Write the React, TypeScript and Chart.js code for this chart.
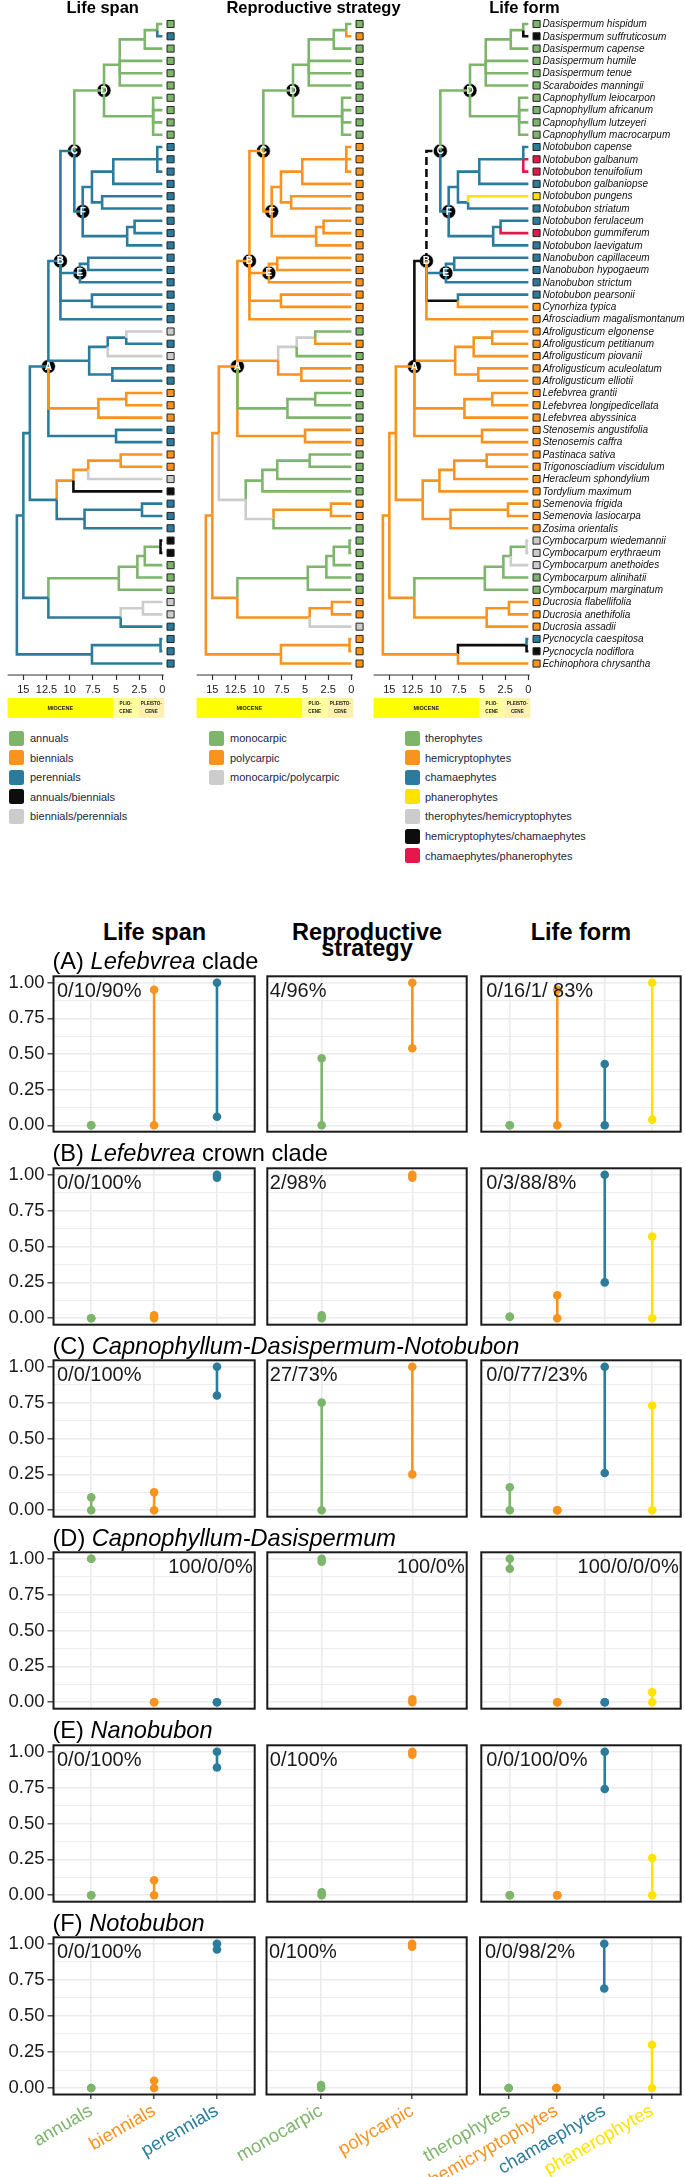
import React, { useEffect, useRef } from "react";
import { Chart, registerables } from "chart.js";

Chart.register(...registerables);
const FONT = '"Liberation Sans", Arial, Helvetica, sans-serif';
Chart.defaults.font.family = FONT;

// ---------- colours ----------
const GREEN = "#7db56b";
const ORANGE = "#f7931e";
const BLUE = "#2b7c9c";
const BLACK = "#0d0d0d";
const GREY = "#cccccc";
const YELLOW = "#ffe300";
const RED = "#e3184b";
const GRID = "#ebebeb";
const stateColors: Record<string, string> = { g: GREEN, o: ORANGE, b: BLUE, k: BLACK, s: GREY, y: YELLOW, r: RED, d: BLACK };

// ---------- phylogeny data ----------
const tipNames = [
  "Dasispermum hispidum", "Dasispermum suffruticosum", "Dasispermum capense", "Dasispermum humile", "Dasispermum tenue",
  "Scaraboides manningii", "Capnophyllum leiocarpon", "Capnophyllum africanum", "Capnophyllum lutzeyeri", "Capnophyllum macrocarpum",
  "Notobubon capense", "Notobubon galbanum", "Notobubon tenuifolium", "Notobubon galbaniopse", "Notobubon pungens",
  "Notobubon striatum", "Notobubon ferulaceum", "Notobubon gummiferum", "Notobubon laevigatum",
  "Nanobubon capillaceum", "Nanobubon hypogaeum", "Nanobubon strictum", "Notobubon pearsonii", "Cynorhiza typica",
  "Afrosciadium magalismontanum", "Afroligusticum elgonense", "Afroligusticum petitianum", "Afroligusticum piovanii",
  "Afroligusticum aculeolatum", "Afroligusticum elliotii", "Lefebvrea grantii", "Lefebvrea longipedicellata",
  "Lefebvrea abyssinica", "Stenosemis angustifolia", "Stenosemis caffra", "Pastinaca sativa", "Trigonosciadium viscidulum",
  "Heracleum sphondylium", "Tordylium maximum", "Semenovia frigida", "Semenovia lasiocarpa", "Zosima orientalis",
  "Cymbocarpum wiedemannii", "Cymbocarpum erythraeum", "Cymbocarpum anethoides", "Cymbocarpum alinihatii",
  "Cymbocarpum marginatum", "Ducrosia flabellifolia", "Ducrosia anethifolia", "Ducrosia assadii",
  "Pycnocycla caespitosa", "Pycnocycla nodiflora", "Echinophora chrysantha",
];

// internal nodes: [id, age (Ma), children]  (tips are numbered 1..53 top to bottom)
const treeNodes: [string, number, (string | number)[]][] = [
  ["R", 15.7, ["I", "K"]],
  ["I", 15.0, ["G", "J"]],
  ["G", 14.3, ["A", "H"]],
  ["A", 12.3, ["B", "a26", "a31", "a34"]],
  ["B", 11.0, ["C", "E", "b23", 25]],
  ["C", 9.5, ["D", "F"]],
  ["D", 6.3, ["d1", "d7"]],
  ["d1", 4.6, ["d3", 4, 5, 6]],
  ["d3", 1.9, ["d2", 3]],
  ["d2", 0.55, [1, 2]],
  ["d7", 1.0, [7, 8, 9, 10]],
  ["F", 8.6, ["f1", "f2"]],
  ["f1", 7.6, ["f11", "f15"]],
  ["f11", 5.3, ["f12", 14]],
  ["f12", 0.55, [11, 12, 13]],
  ["f15", 6.5, [15, 16]],
  ["f2", 3.8, ["f17", 19]],
  ["f17", 3.0, [17, 18]],
  ["E", 8.9, ["e20", 22]],
  ["e20", 8.0, [20, 21]],
  ["b23", 7.6, [23, 24]],
  ["a26", 7.9, ["a26b", "a29"]],
  ["a26b", 5.9, ["a26c", 28]],
  ["a26c", 3.9, [26, 27]],
  ["a29", 5.4, [29, 30]],
  ["a31", 6.9, ["a31b", 33]],
  ["a31b", 3.9, [31, 32]],
  ["a34", 5.0, [34, 35]],
  ["H", 11.4, ["h1", "h2"]],
  ["h1", 9.6, ["h11", 39]],
  ["h11", 8.0, ["h36", 38]],
  ["h36", 4.5, [36, 37]],
  ["h2", 8.4, ["h40", 42]],
  ["h40", 2.2, [40, 41]],
  ["J", 12.3, ["j1", "j2"]],
  ["j1", 4.7, ["j11", 47]],
  ["j11", 2.7, ["j111", 46]],
  ["j111", 1.9, ["j43", 45]],
  ["j43", 0.2, [43, 44]],
  ["j2", 4.5, ["j48", 50]],
  ["j48", 2.1, [48, 49]],
  ["K", 7.6, ["k51", 53]],
  ["k51", 0.2, [51, 52]],
];
const nodeLetters = ["A", "B", "C", "D", "E", "F"];

// states per tip (53) and per internal node (order of treeNodes)
const lifeSpanTipStates = "gbgggggggg" + "bbbbbbbbbb" + "bbbbb" + "sbsbb" + "ooo" + "bb" + "ooskb" + "bbkkg" + "ggssb" + "bbb";
const lifeSpanNodeStates = "-bbbbbggggg" + "bbbbbbb" + "bbb" + "bbbb" + "oo" + "b" + "b" + "ooo" + "bb" + "b" + "gggg" + "b" + "s" + "bb";
const reproTipStates = "gogggggggg" + "ooooooooooooooo" + "gogoo" + "ggg" + "oo" + "gggg" + "oog" + "ggggg" + "oos" + "ooo";
const reproNodeStates = "-oooo" + "o" + "ggggg" + "ooooooo" + "ooo" + "o" + "ss" + "o" + "gg" + "o" + "s" + "ggg" + "s" + "o" + "o" + "gggg" + "oo" + "oo";
const lifeFormTipStates = "gkgggggggg" + "brrbybbrbb" + "bbboo" + "ooooo" + "ooo" + "oo" + "ooooooo" + "sssgg" + "ooo" + "bko";
const lifeFormNodeStates = "-ooo" + "k" + "d" + "ggggg" + "bbbbbbb" + "bb" + "k" + "oooo" + "oo" + "o" + "o" + "ooo" + "oo" + "o" + "gggg" + "oo" + "o" + "k";

const ageTicks = [15, 12.5, 10, 7.5, 5, 2.5, 0];
const epochNames = [["MIOCENE"], ["PLIO-", "CENE"], ["PLEISTO-", "CENE"]];
const epochStart = [23.03, 5.333, 2.58];
const epochEnd = [5.333, 2.58, -0.2];
const epochColors = ["#ffff00", "#ffff9e", "#fff0b0"];

const lifeSpanLegend: [string, string][] = [["annuals", GREEN], ["biennials", ORANGE], ["perennials", BLUE], ["annuals/biennials", BLACK], ["biennials/perennials", GREY]];
const reproLegend: [string, string][] = [["monocarpic", GREEN], ["polycarpic", ORANGE], ["monocarpic/polycarpic", GREY]];
const lifeFormLegend: [string, string][] = [["therophytes", GREEN], ["hemicryptophytes", ORANGE], ["chamaephytes", BLUE], ["phanerophytes", YELLOW], ["therophytes/hemicryptophytes", GREY], ["hemicryptophytes/chamaephytes", BLACK], ["chamaephytes/phanerophytes", RED]];

// ---------- ancestral state panels data ----------
const lifeSpanCats = ["annuals", "biennials", "perennials"];
const reproCats = ["monocarpic", "polycarpic"];
const lifeFormCats = ["therophytes", "hemicryptophytes", "chamaephytes", "phanerophytes"];
const lifeSpanLow = [[0, 0, 0.06], [0, 0, 0.98], [0, 0, 0.8], [1, 0, 0], [0, 0, 0.89], [0, 0, 0.96]];
const lifeSpanHigh = [[0, 0.95, 1], [0, 0.02, 1], [0.09, 0.125, 1], [1, 0, 0], [0, 0.105, 1], [0, 0.05, 1]];
const reproLow = [[0, 0.54], [0, 0.98], [0, 0.25], [0.98, 0], [0, 0.98], [0, 0.98]];
const reproHigh = [[0.47, 1], [0.02, 1], [0.75, 1], [1, 0.02], [0.02, 1], [0.02, 1]];
const lifeFormLow = [[0, 0, 0, 0.04], [0.01, 0, 0.25, 0], [0, 0, 0.26, 0], [0.93, 0, 0, 0], [0, 0, 0.74, 0], [0, 0, 0.69, 0]];
const lifeFormHigh = [[0, 0.95, 0.43, 1], [0.01, 0.16, 1, 0.57], [0.16, 0, 1, 0.73], [1, 0, 0, 0.07], [0, 0, 1, 0.26], [0, 0, 1, 0.3]];
const lifeSpanPct = ["0/10/90%", "0/0/100%", "0/0/100%", "100/0/0%", "0/0/100%", "0/0/100%"];
const reproPct = ["4/96%", "2/98%", "27/73%", "100/0%", "0/100%", "0/100%"];
const lifeFormPct = ["0/16/1/ 83%", "0/3/88/8%", "0/0/77/23%", "100/0/0/0%", "0/0/100/0%", "0/0/98/2%"];
const pctRight = [false, false, false, true, false, false];
const cladeTitles = [
  ["(A) ", "Lefebvrea", " clade"],
  ["(B) ", "Lefebvrea", " crown clade"],
  ["(C) ", "Capnophyllum-Dasispermum-Notobubon", ""],
  ["(D) ", "Capnophyllum-Dasispermum", ""],
  ["(E) ", "Nanobubon", ""],
  ["(F) ", "Notobubon", ""],
];
const columnTitles = [["Life span"], ["Reproductive", "strategy"], ["Life form"]];
const yTickVals = [0, 0.125, 0.25, 0.375, 0.5, 0.625, 0.75, 0.875, 1];

const panelSpecs = [
  { cats: lifeSpanCats, colors: [GREEN, ORANGE, BLUE], lows: lifeSpanLow, highs: lifeSpanHigh, pcts: lifeSpanPct },
  { cats: reproCats, colors: [GREEN, ORANGE], lows: reproLow, highs: reproHigh, pcts: reproPct },
  { cats: lifeFormCats, colors: [GREEN, ORANGE, BLUE, YELLOW], lows: lifeFormLow, highs: lifeFormHigh, pcts: lifeFormPct },
];

// ---------- layout constants ----------
const PANEL_L = [53.5, 266.5, 480];
const PANEL_R = [255.5, 468, 681.5];
const PCT_DX = [3.5, 2.5, 5];
const ROW_TOP0 = 975;
const ROW_PITCH = 192.3;
const PANEL_H = 158;
const AGE_MAX = 16.7;
const AGE_MIN = -0.93; // room for the tip squares inside the plot area
const AXIS_END = -0.15; // axis line stops just past 0
const TIP_X = -0.88;
const Y_MIN = 0.187;
const Y_MAX = 53.93;

function buildTree() {
  const age: Record<string, number> = {};
  const kids: Record<string, string[]> = {};
  const parent: Record<string, string> = {};
  treeNodes.forEach(([id, a, ch]) => {
    age[id] = a;
    kids[id] = ch.map(String);
    ch.forEach((c) => (parent[String(c)] = id));
  });
  tipNames.forEach((_, i) => (age[String(i + 1)] = 0));
  const y: Record<string, number> = {};
  const place = (id: string): number => {
    if (y[id] !== undefined) return y[id];
    const k = kids[id];
    y[id] = k ? k.map(place).reduce((s, v) => s + v, 0) / k.length : Number(id);
    return y[id];
  };
  place("R");
  return { age, y, parent };
}

function TreeChart({ left, width, tipStates, nodeStates, showLabels }: any) {
  const ref = useRef<HTMLCanvasElement>(null);
  useEffect(() => {
    const t = buildTree();
    const stateOf = (id: string) =>
      /^\d+$/.test(id) ? tipStates[Number(id) - 1] : nodeStates[treeNodes.findIndex((n) => n[0] === id)];
    const edgeIds = [...tipNames.map((_, i) => String(i + 1)), ...treeNodes.slice(1).map((n) => n[0])];
    const datasets: any[] = [];
    // time axis line
    datasets.push({
      data: [
        { x: AGE_MAX, y: Y_MAX },
        { x: AXIS_END, y: Y_MAX },
      ],
      showLine: true,
      borderColor: "#333",
      borderWidth: 1.2,
      pointRadius: 0,
      pointHoverRadius: 0,
      clip: false,
    });
    edgeIds.forEach((id) => {
      const p = t.parent[id];
      const st = stateOf(id);
      datasets.push({
        data: [
          { x: t.age[p], y: t.y[p] },
          { x: t.age[p], y: t.y[id] },
          { x: t.age[id], y: t.y[id] },
        ],
        showLine: true,
        borderColor: stateColors[st],
        borderWidth: 2.6,
        borderDash: st === "d" ? [8, 4] : [],
        borderCapStyle: "butt",
        borderJoinStyle: "miter",
        pointRadius: 0,
        pointHoverRadius: 0,
        tension: 0,
        fill: false,
      });
    });
    const tipColors = tipNames.map((_, i) => stateColors[tipStates[i]]);
    datasets.push({
      data: tipNames.map((_, i) => ({ x: TIP_X, y: i + 1 })),
      showLine: false,
      pointStyle: "rect",
      pointRadius: 5,
      pointHoverRadius: 5,
      pointBackgroundColor: tipColors,
      backgroundColor: tipColors,
      pointBorderColor: "#222",
      borderColor: "#222",
      pointBorderWidth: 1,
      clip: false,
    });
    datasets.push({
      data: nodeLetters.map((id) => ({ x: t.age[id], y: t.y[id] })),
      showLine: false,
      pointRadius: 7,
      pointHoverRadius: 7,
      pointBackgroundColor: "#000",
      backgroundColor: "#000",
      pointBorderColor: "#fff",
      pointBorderWidth: 0.6,
      clip: false,
    });
    const plugin = {
      id: "treeExtras",
      afterDatasetsDraw(chart: any) {
        const { ctx } = chart;
        const xs = chart.scales.x;
        const ys = chart.scales.y;
        ctx.save();
        ctx.font = `bold 10px ${FONT}`;
        ctx.fillStyle = "#fff";
        ctx.textAlign = "center";
        ctx.textBaseline = "middle";
        nodeLetters.forEach((id) => ctx.fillText(id, xs.getPixelForValue(t.age[id]), ys.getPixelForValue(t.y[id]) + 0.5));
        if (showLabels) {
          ctx.font = `italic 10px ${FONT}`;
          ctx.fillStyle = "#111";
          ctx.textAlign = "left";
          const x0 = xs.getPixelForValue(0) + 14;
          tipNames.forEach((n, i) => ctx.fillText(n, x0, ys.getPixelForValue(i + 1) + 0.5));
        }
        ctx.restore();
      },
      afterDraw(chart: any) {
        const { ctx, chartArea } = chart;
        const xs = chart.scales.x;
        const top = chartArea.bottom + 23;
        const h = 20;
        ctx.save();
        epochNames.forEach((lines, k) => {
          const x1 = Math.max(chartArea.left, xs.getPixelForValue(epochStart[k]));
          const x2 = xs.getPixelForValue(epochEnd[k]);
          ctx.fillStyle = epochColors[k];
          ctx.fillRect(x1, top, x2 - x1, h);
          ctx.fillStyle = "#222";
          ctx.textAlign = "center";
          ctx.textBaseline = "middle";
          ctx.font = `bold ${lines.length === 1 ? 5.5 : 4.6}px ${FONT}`;
          const cx = (x1 + x2) / 2;
          lines.forEach((ln, j) => ctx.fillText(ln, cx, top + h / 2 + (j - (lines.length - 1) / 2) * 8));
        });
        ctx.restore();
      },
    };
    const pxPerMa = 162.5 / (AGE_MAX - AXIS_END);
    const areaRight = 1 + (AGE_MAX - AGE_MIN) * pxPerMa;
    const chart = new Chart(ref.current as HTMLCanvasElement, {
      type: "scatter",
      data: { datasets },
      options: {
        animation: false,
        responsive: false,
        events: [],
        layout: { padding: { top: 14, left: 1, right: width - areaRight, bottom: 0 } },
        plugins: { legend: { display: false }, tooltip: { enabled: false } },
        scales: {
          x: {
            type: "linear",
            reverse: true,
            min: AGE_MIN,
            max: AGE_MAX,
            afterBuildTicks: (s: any) => {
              s.ticks = ageTicks.map((v) => ({ value: v }));
            },
            afterFit: (s: any) => {
              s.height = 45;
              s.paddingLeft = 0;
              s.paddingRight = 0;
            },
            grid: { drawOnChartArea: false, drawTicks: true, tickLength: 5, tickWidth: 1.2, tickColor: "#333" },
            border: { display: false },
            ticks: {
              autoSkip: false,
              maxRotation: 0,
              padding: 3,
              color: "#1a1a1a",
              font: { size: 11, family: FONT },
              callback: (v: any) => String(v),
            },
          },
          y: { type: "linear", reverse: true, min: Y_MIN, max: Y_MAX, display: false },
        },
      } as any,
      plugins: [plugin],
    });
    return () => chart.destroy();
  }, []);
  return <canvas ref={ref} width={width} height={720} style={{ position: "absolute", left, top: 0 }} />;
}

function Panel({ row, col }: { row: number; col: number }) {
  const ref = useRef<HTMLCanvasElement>(null);
  const spec = panelSpecs[col];
  const isBottom = row === 5;
  const isLeft = col === 0;
  const pl = PANEL_L[col];
  const pr = PANEL_R[col];
  const top = ROW_TOP0 + row * ROW_PITCH;
  const bottom = top + PANEL_H;
  const cLeft = isLeft ? 0 : Math.floor(pl) - (isBottom ? 130 : 3);
  const cTop = Math.floor(top) - 3;
  const cRight = Math.ceil(pr) + 3;
  const cBottom = isBottom ? 2177 : Math.ceil(bottom) + 3;
  const W = cRight - cLeft;
  const H = cBottom - cTop;
  useEffect(() => {
    const n = spec.cats.length;
    const lows = spec.lows[row];
    const highs = spec.highs[row];
    const isMajor = (v: number) => Math.abs(v * 4 - Math.round(v * 4)) < 1e-6;
    const datasets = spec.cats.map((_, k) => ({
      data: [
        { x: k + 1, y: lows[k] },
        { x: k + 1, y: highs[k] },
      ],
      showLine: true,
      borderColor: spec.colors[k],
      backgroundColor: spec.colors[k],
      pointBackgroundColor: spec.colors[k],
      pointBorderWidth: 0,
      pointRadius: 4.3,
      pointHoverRadius: 4.3,
      borderWidth: 2.6,
      clip: false,
    }));
    const plugin = {
      id: "panelExtras",
      afterDraw(chart: any) {
        const { ctx, chartArea: a } = chart;
        ctx.save();
        ctx.strokeStyle = "#1a1a1a";
        ctx.lineWidth = 2;
        ctx.strokeRect(a.left, a.top, a.right - a.left, a.bottom - a.top);
        ctx.font = `20px ${FONT}`;
        ctx.fillStyle = "#1a1a1a";
        ctx.textBaseline = "middle";
        const txt = spec.pcts[row];
        if (pctRight[row]) {
          ctx.textAlign = "right";
          ctx.fillText(txt, a.right - 2, a.top + 15.6);
        } else {
          ctx.textAlign = "left";
          ctx.fillText(txt, a.left + PCT_DX[col], a.top + 15.6);
        }
        ctx.restore();
      },
    };
    const chart = new Chart(ref.current as HTMLCanvasElement, {
      type: "scatter",
      data: { datasets },
      options: {
        animation: false,
        responsive: false,
        events: [],
        layout: {
          padding: {
            left: isLeft ? 0 : pl - cLeft,
            right: cRight - pr,
            top: top - cTop,
            bottom: isBottom ? 0 : cBottom - bottom,
          },
        },
        plugins: { legend: { display: false }, tooltip: { enabled: false } },
        scales: {
          x: {
            type: "linear",
            min: 0.4,
            max: n + 0.6,
            afterBuildTicks: (s: any) => {
              s.ticks = spec.cats.map((_, k) => ({ value: k + 1 }));
            },
            afterFit: (s: any) => {
              s.height = isBottom ? cBottom - bottom : 0;
              s.paddingLeft = 0;
              s.paddingRight = 0;
            },
            grid: { color: GRID, lineWidth: 1.6, drawTicks: isBottom, tickLength: 4.5, tickColor: "#333", tickWidth: 1.3 },
            border: { display: false },
            ticks: {
              display: isBottom,
              autoSkip: false,
              minRotation: 30,
              maxRotation: 30,
              padding: 1,
              font: { size: 18.5, family: FONT },
              color: (c: any) => spec.colors[c.index],
              callback: (v: any) => spec.cats[Math.round(Number(v)) - 1],
            },
          },
          y: {
            type: "linear",
            min: -0.0448,
            max: 1.0448,
            afterBuildTicks: (s: any) => {
              s.ticks = yTickVals.map((v) => ({ value: v }));
            },
            afterFit: (s: any) => {
              s.width = isLeft ? pl : 0;
              s.paddingTop = 0;
              s.paddingBottom = 0;
            },
            grid: {
              color: GRID,
              lineWidth: (c: any) => (isMajor(c.tick ? c.tick.value : 0) ? 1.6 : 0.9),
              drawTicks: isLeft,
              tickLength: 6,
              tickColor: (c: any) => (isMajor(c.tick ? c.tick.value : 0) ? "#333" : "rgba(0,0,0,0)"),
              tickWidth: 1.3,
            },
            border: { display: false },
            ticks: {
              display: isLeft,
              autoSkip: false,
              padding: 3,
              font: { size: 18.5, family: FONT },
              color: "#1a1a1a",
              callback: (v: any) => (isMajor(Number(v)) ? Number(v).toFixed(2) : ""),
            },
          },
        },
      } as any,
      plugins: [plugin],
    });
    return () => chart.destroy();
  }, []);
  return <canvas ref={ref} width={W} height={H} style={{ position: "absolute", left: cLeft, top: cTop }} />;
}

function Legend({ left, textLeft, items }: { left: number; textLeft: number; items: [string, string][] }) {
  return (
    <>
      {items.map(([label, color], i) => (
        <React.Fragment key={label}>
          <div style={{ position: "absolute", left, top: 738 + i * 19.6 - 7.5, width: 14.5, height: 15, background: color, borderRadius: 2.5 }} />
          <div style={{ position: "absolute", left: textLeft, top: 738 + i * 19.6 - 8, fontSize: 11, lineHeight: "16px", color: "#1e1e3c", whiteSpace: "nowrap" }}>
            {label}
          </div>
        </React.Fragment>
      ))}
    </>
  );
}

export default function App() {
  const treeTitles: [string, number][] = [["Life span", 102.7], ["Reproductive strategy", 313.5], ["Life form", 524.5]];
  const colCenters = [154.5, 367, 581];
  return (
    <div style={{ position: "absolute", left: 0, top: 0, width: 685, height: 2177, overflow: "hidden", background: "#fff", fontFamily: FONT, color: "#000" }}>
      <TreeChart left={0} width={185} tipStates={lifeSpanTipStates} nodeStates={lifeSpanNodeStates} showLabels={false} />
      <TreeChart left={189} width={185} tipStates={reproTipStates} nodeStates={reproNodeStates} showLabels={false} />
      <TreeChart left={366} width={319} tipStates={lifeFormTipStates} nodeStates={lifeFormNodeStates} showLabels={true} />
      {treeTitles.map(([t, cx]) => (
        <div key={t} style={{ position: "absolute", left: cx - 120, width: 240, top: -0.6, textAlign: "center", fontWeight: "bold", fontSize: 16.5, lineHeight: "16.5px", whiteSpace: "nowrap" }}>
          {t}
        </div>
      ))}
      <Legend left={9} textLeft={30} items={lifeSpanLegend} />
      <Legend left={209} textLeft={230} items={reproLegend} />
      <Legend left={405} textLeft={425} items={lifeFormLegend} />
      {[0, 1, 2, 3, 4, 5].map((r) => [0, 1, 2].map((c) => <Panel key={`${r}-${c}`} row={r} col={c} />))}
      {columnTitles.map((lines, c) => (
        <div key={c} style={{ position: "absolute", left: colCenters[c] - 120, width: 240, top: 932 - 8.25, textAlign: "center", fontWeight: "bold", fontSize: 23.5, lineHeight: "16.5px", whiteSpace: "nowrap" }}>
          {lines.map((l) => (
            <div key={l}>{l}</div>
          ))}
        </div>
      ))}
      {cladeTitles.map((parts, r) => (
        <div key={r} style={{ position: "absolute", left: 52.5, top: ROW_TOP0 + r * ROW_PITCH - 14 - 14, fontSize: 23.6, lineHeight: "28px", whiteSpace: "nowrap" }}>
          {parts[0]}
          <i>{parts[1]}</i>
          {parts[2]}
        </div>
      ))}
    </div>
  );
}
